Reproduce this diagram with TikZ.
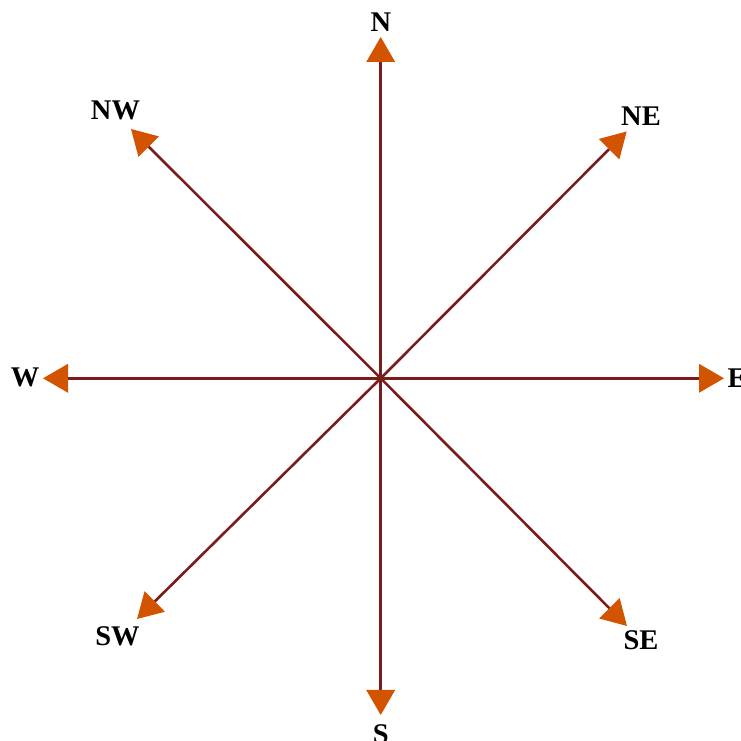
\documentclass[tikz,border=0pt]{standalone}
\usepackage{fontspec}
\setmainfont{Liberation Serif}
\usetikzlibrary{arrows.meta}
\definecolor{linered}{HTML}{7B1C1C}
\definecolor{tiporange}{HTML}{D35400}
\begin{document}
\begin{tikzpicture}[x=1pt,y=1pt,
  ray/.style={draw=linered, line width=2.6pt,
    -{Triangle[length=25pt,width=29pt,line width=0pt,color=tiporange,fill=tiporange]}},
  lbl/.style={font=\fontsize{28.5}{32}\selectfont\bfseries, text=black, inner sep=0pt}]
\useasboundingbox (0,0) rectangle (740,741);
\coordinate (O) at (380.7,362.7);
\coordinate (tN) at (380.7,704);
\coordinate (tS) at (380.7,26);
\coordinate (tE) at (724,362.7);
\coordinate (tW) at (43,362.7);
\coordinate (tNE) at (626.7,609.5);
\coordinate (tNW) at (131,612);
\coordinate (tSW) at (137,122);
\coordinate (tSE) at (627,115);
\node[lbl] (lN) at (381,719) {N};
\node[lbl] (lS) at (380.7,7) {S};
\node[lbl] (lE) at (737,363) {E};
\node[lbl] (lW) at (25,364) {W};
\node[lbl] (lNE) at (641,624.5) {NE};
\node[lbl] (lNW) at (115.5,630.5) {NW};
\node[lbl] (lSW) at (117.5,105) {SW};
\node[lbl] (lSE) at (641,101) {SE};
\draw[ray] (O) -- (tN);
\draw[ray] (O) -- (tS);
\draw[ray] (O) -- (tE);
\draw[ray] (O) -- (tW);
\draw[ray] (O) -- (tNE);
\draw[ray] (O) -- (tNW);
\draw[ray] (O) -- (tSW);
\draw[ray] (O) -- (tSE);
\end{tikzpicture}
\end{document}
